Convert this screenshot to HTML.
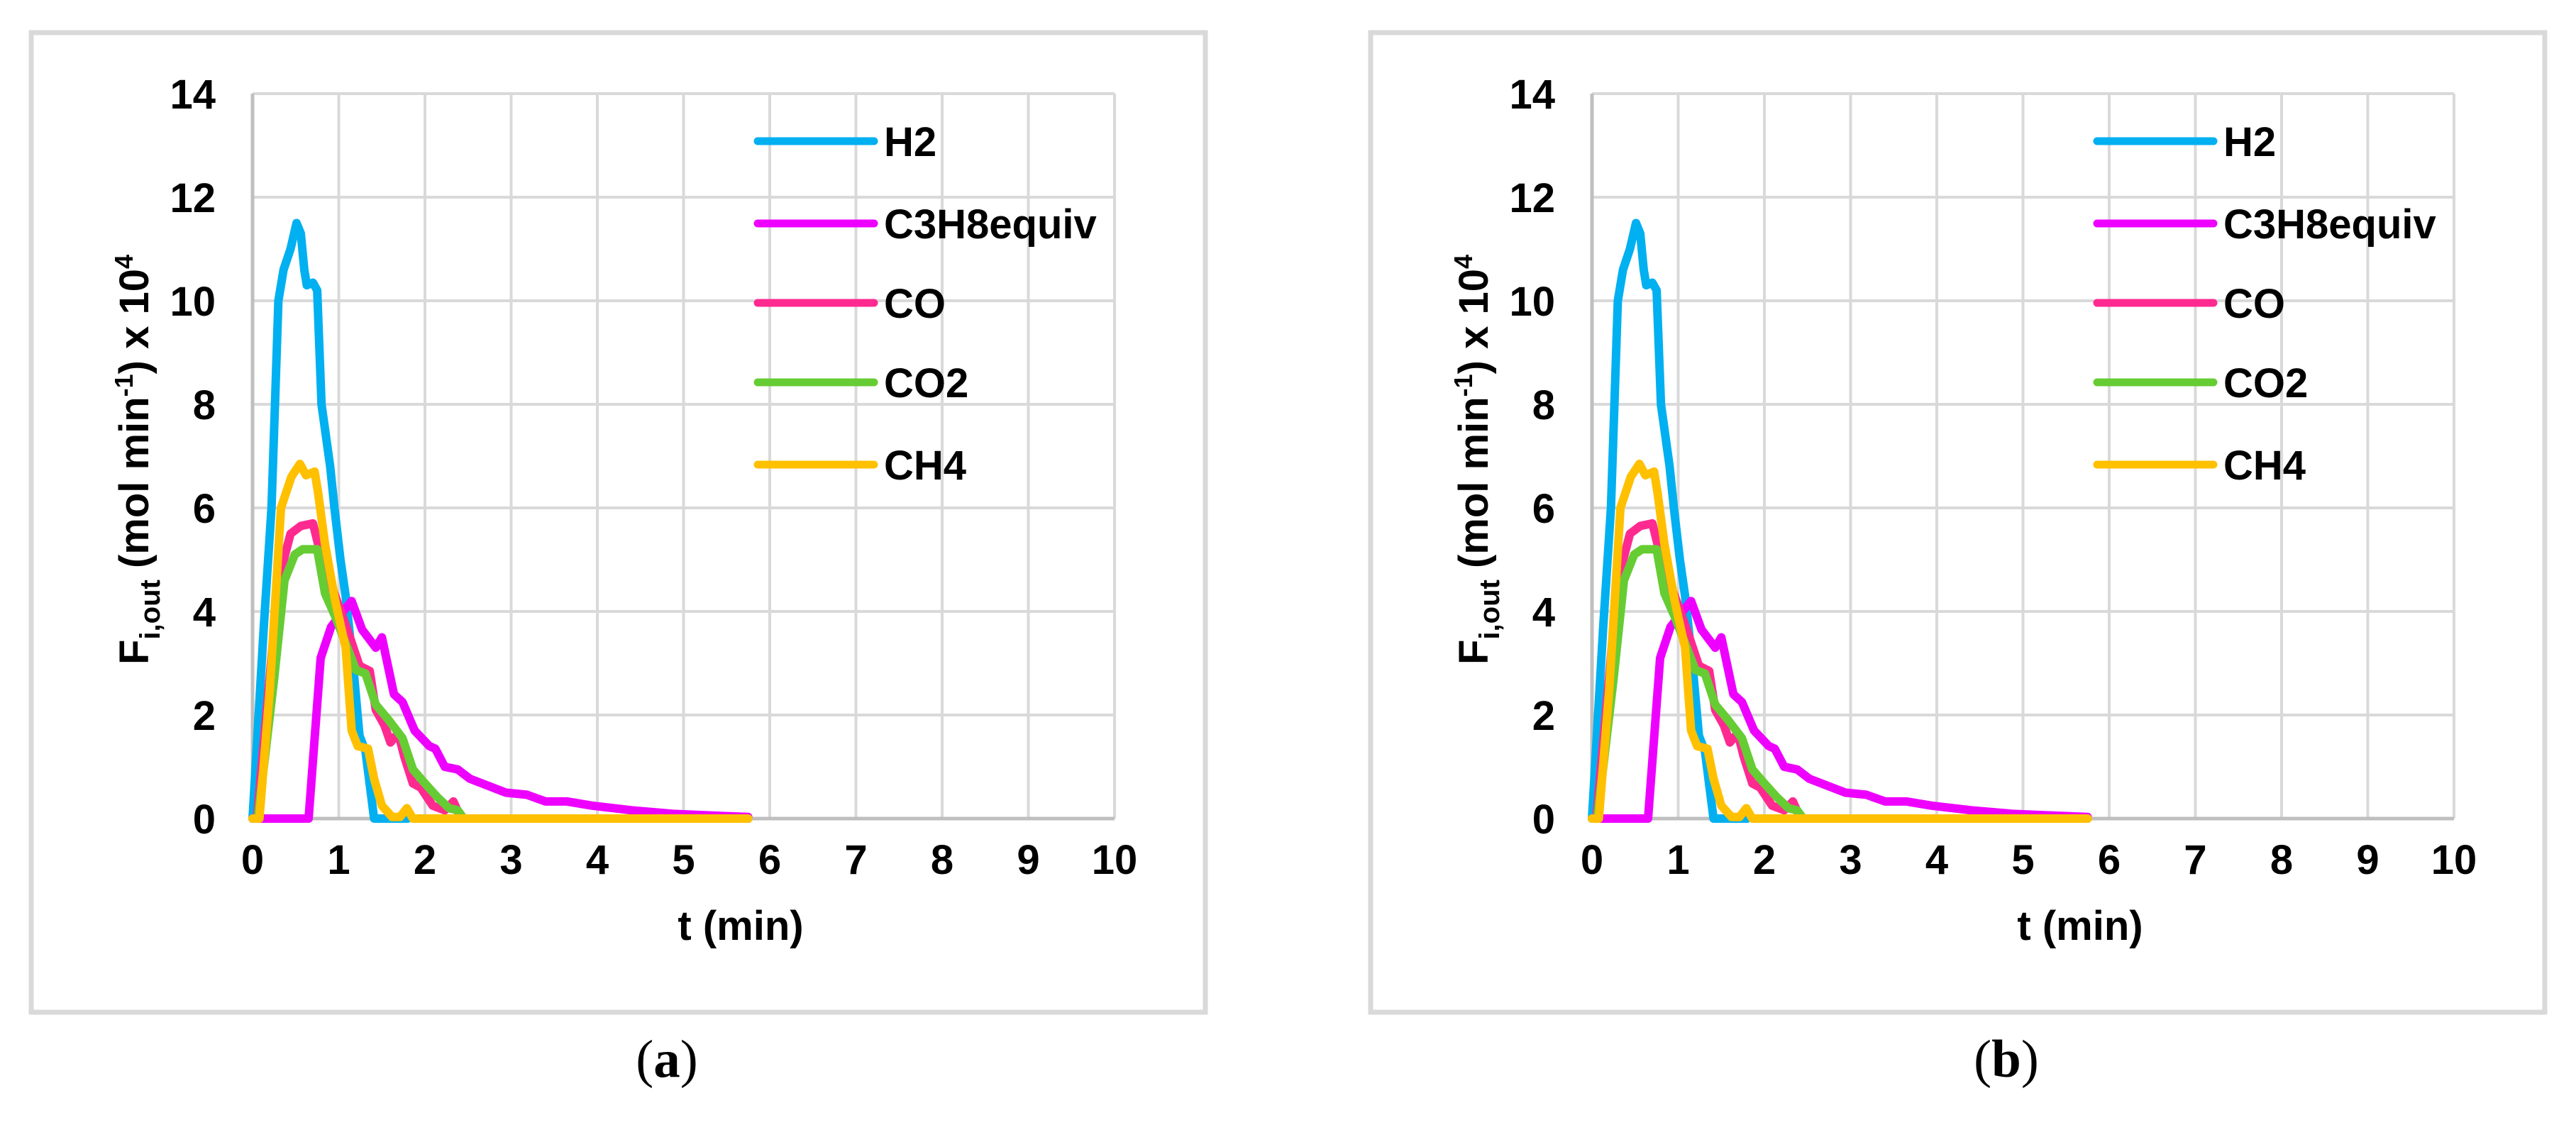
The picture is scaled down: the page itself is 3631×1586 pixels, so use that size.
<!DOCTYPE html>
<html>
<head>
<meta charset="utf-8">
<style>
html,body{margin:0;padding:0;background:#fff;}
svg{display:block;}
text{font-family:"Liberation Sans",Arial,sans-serif;}
</style>
</head>
<body>
<svg id="fig" xmlns="http://www.w3.org/2000/svg" width="3631" height="1586" viewBox="0 0 3631 1586"></svg>
<script>
// ---- data ----
const xTicks = [0,1,2,3,4,5,6,7,8,9,10];
const yTicks = [0,2,4,6,8,10,12,14];
const seriesNames = ["H2","C3H8equiv","CO","CO2","CH4"];
const seriesColors = ["#00b0f0","#ee00ff","#ff2a90","#66cc33","#ffc000"];
const h2X = [0,0.13,0.22,0.26,0.3,0.36,0.44,0.51,0.56,0.6,0.63,0.7,0.75,0.8,0.9,0.95,1.02,1.08,1.17,1.24,1.31,1.41,1.5,1.8];
const h2Y = [0,3.7,6.0,8.0,10.0,10.6,11.0,11.5,11.3,10.6,10.3,10.35,10.2,8.0,6.8,6.0,5.0,4.3,2.9,1.6,1.3,0,0,0];
const c3X = [0,0.65,0.79,0.91,1.05,1.15,1.27,1.43,1.5,1.64,1.74,1.88,2.05,2.12,2.23,2.38,2.52,2.94,3.18,3.4,3.65,3.94,4.4,4.88,5.75];
const c3Y = [0,0,3.1,3.7,4.0,4.2,3.65,3.3,3.5,2.4,2.25,1.7,1.4,1.35,1.0,0.95,0.77,0.5,0.46,0.33,0.33,0.25,0.16,0.09,0.03];
const coX = [0,0.05,0.3,0.44,0.56,0.7,0.82,0.96,1.1,1.24,1.36,1.43,1.53,1.6,1.69,1.76,1.86,1.95,2.09,2.23,2.33,2.42,5.75];
const coY = [0,0,4.6,5.5,5.65,5.7,4.9,4.3,3.65,2.95,2.85,2.1,1.8,1.47,1.65,1.2,0.68,0.6,0.25,0.16,0.33,0,0];
const co2X = [0,0.06,0.25,0.37,0.49,0.58,0.75,0.84,0.96,1.1,1.2,1.31,1.43,1.58,1.74,1.86,2.0,2.14,2.28,2.38,2.45,5.75];
const co2Y = [0,0,2.7,4.6,5.1,5.2,5.2,4.35,3.9,3.3,2.87,2.8,2.2,1.9,1.55,0.95,0.68,0.42,0.2,0.16,0,0];
const ch4X = [0,0.08,0.2,0.33,0.45,0.55,0.62,0.72,0.76,0.84,0.96,1.08,1.15,1.22,1.34,1.41,1.5,1.62,1.71,1.79,1.86,5.75];
const ch4Y = [0,0,2.5,6.0,6.6,6.85,6.63,6.7,6.3,5.3,4.2,3.3,1.7,1.4,1.35,0.77,0.25,0.03,0.03,0.2,0,0];
const allX = [h2X,c3X,coX,co2X,ch4X];
const allY = [h2Y,c3Y,coY,co2Y,ch4Y];
const panelLabels = ["a","b"];

const NS = "http://www.w3.org/2000/svg";
const svg = document.getElementById("fig");
function mk(tag, attrs, parent){
  const e = document.createElementNS(NS, tag);
  for (const k in attrs) e.setAttribute(k, attrs[k]);
  parent.appendChild(e);
  return e;
}

function drawPanel(dx, label){
  const g = mk("g", {transform:"translate("+dx+",0)"}, svg);
  
  
  const X0 = 356, X1 = 1571, Y0 = 1154, Y1 = 132;
  const sx = v => X0 + (v - 0) / 10 * (X1 - X0);
  const sy = v => Y0 - v / 14 * (Y0 - Y1);

  const frame = mk("rect", {x:44, y:46, width:1655, height:1381, fill:"#fff", stroke:"#d9d9d9", "stroke-width":7}, g);
  
  

  xTicks.forEach(t => {
    const l = mk("line", {x1:sx(t), x2:sx(t), y1:Y1, y2:Y0, stroke:"#d9d9d9", "stroke-width":4}, g);
    
    
  });
  yTicks.forEach(t => {
    const l = mk("line", {x1:X0, x2:X1, y1:sy(t), y2:sy(t), stroke:"#d9d9d9", "stroke-width":4}, g);
    
    
  });
  const xa = mk("line", {x1:X0, x2:X1, y1:Y0, y2:Y0, stroke:"#bfbfbf", "stroke-width":5}, g);
  
  
  const ya = mk("line", {x1:X0, x2:X0, y1:Y1, y2:Y0, stroke:"#bfbfbf", "stroke-width":5}, g);
  
  

  xTicks.forEach(t => {
    const tx = mk("text", {x:sx(t), y:1232, "text-anchor":"middle", "font-size":58, "font-weight":"bold", fill:"#000"}, g);
    tx.textContent = String(t);
    
    
  });
  yTicks.forEach(t => {
    const tx = mk("text", {x:304, y:sy(t)+21, "text-anchor":"end", "font-size":58, "font-weight":"bold", fill:"#000"}, g);
    tx.textContent = String(t);
    
    
  });

  const xt = mk("text", {x:1044, y:1325, "text-anchor":"middle", "font-size":58, "font-weight":"bold", fill:"#000"}, g);
  xt.textContent = "t (min)";
  
  

  const yt = mk("text", {x:0, y:0, "text-anchor":"middle", "font-size":58, "font-weight":"bold", fill:"#000", transform:"translate(209,648) rotate(-90)"}, g);
  
  
  yt.innerHTML = 'F<tspan font-size="40" dy="16">i,out</tspan><tspan dy="-16"> (mol min</tspan><tspan font-size="36" dy="-22">-1</tspan><tspan dy="22">) x 10</tspan><tspan font-size="36" dy="-22">4</tspan>';

  allX.forEach((xs, i) => {
    const ys = allY[i];
    const d = xs.map((v, j) => (j ? "L" : "M") + sx(v).toFixed(1) + "," + sy(ys[j]).toFixed(1)).join(" ");
    const p = mk("path", {d:d, fill:"none", stroke:seriesColors[i], "stroke-width":12, "stroke-linejoin":"round", "stroke-linecap":"round"}, g);
    
    
  });

  const legendY = [199,315,427,539,655];
  seriesNames.forEach((n, i) => {
    const lg = mk("g", {}, g);
    
    
    mk("line", {x1:1068, x2:1232, y1:legendY[i], y2:legendY[i], stroke:seriesColors[i], "stroke-width":11, "stroke-linecap":"round"}, lg);
    const t = mk("text", {x:1246, y:legendY[i]+21, "font-size":58, "font-weight":"bold", fill:"#000"}, lg);
    t.textContent = n;
  });

  const cap = mk("text", {x:940, y:1518, "text-anchor":"middle", "font-size":75, fill:"#000"}, g);
  cap.innerHTML = '(<tspan font-weight="bold">' + label + '</tspan>)';
  cap.style.fontFamily = '"Liberation Serif", serif';
  
  
}

drawPanel(0, panelLabels[0]);
drawPanel(1888, panelLabels[1]);
</script>
</body>
</html>
